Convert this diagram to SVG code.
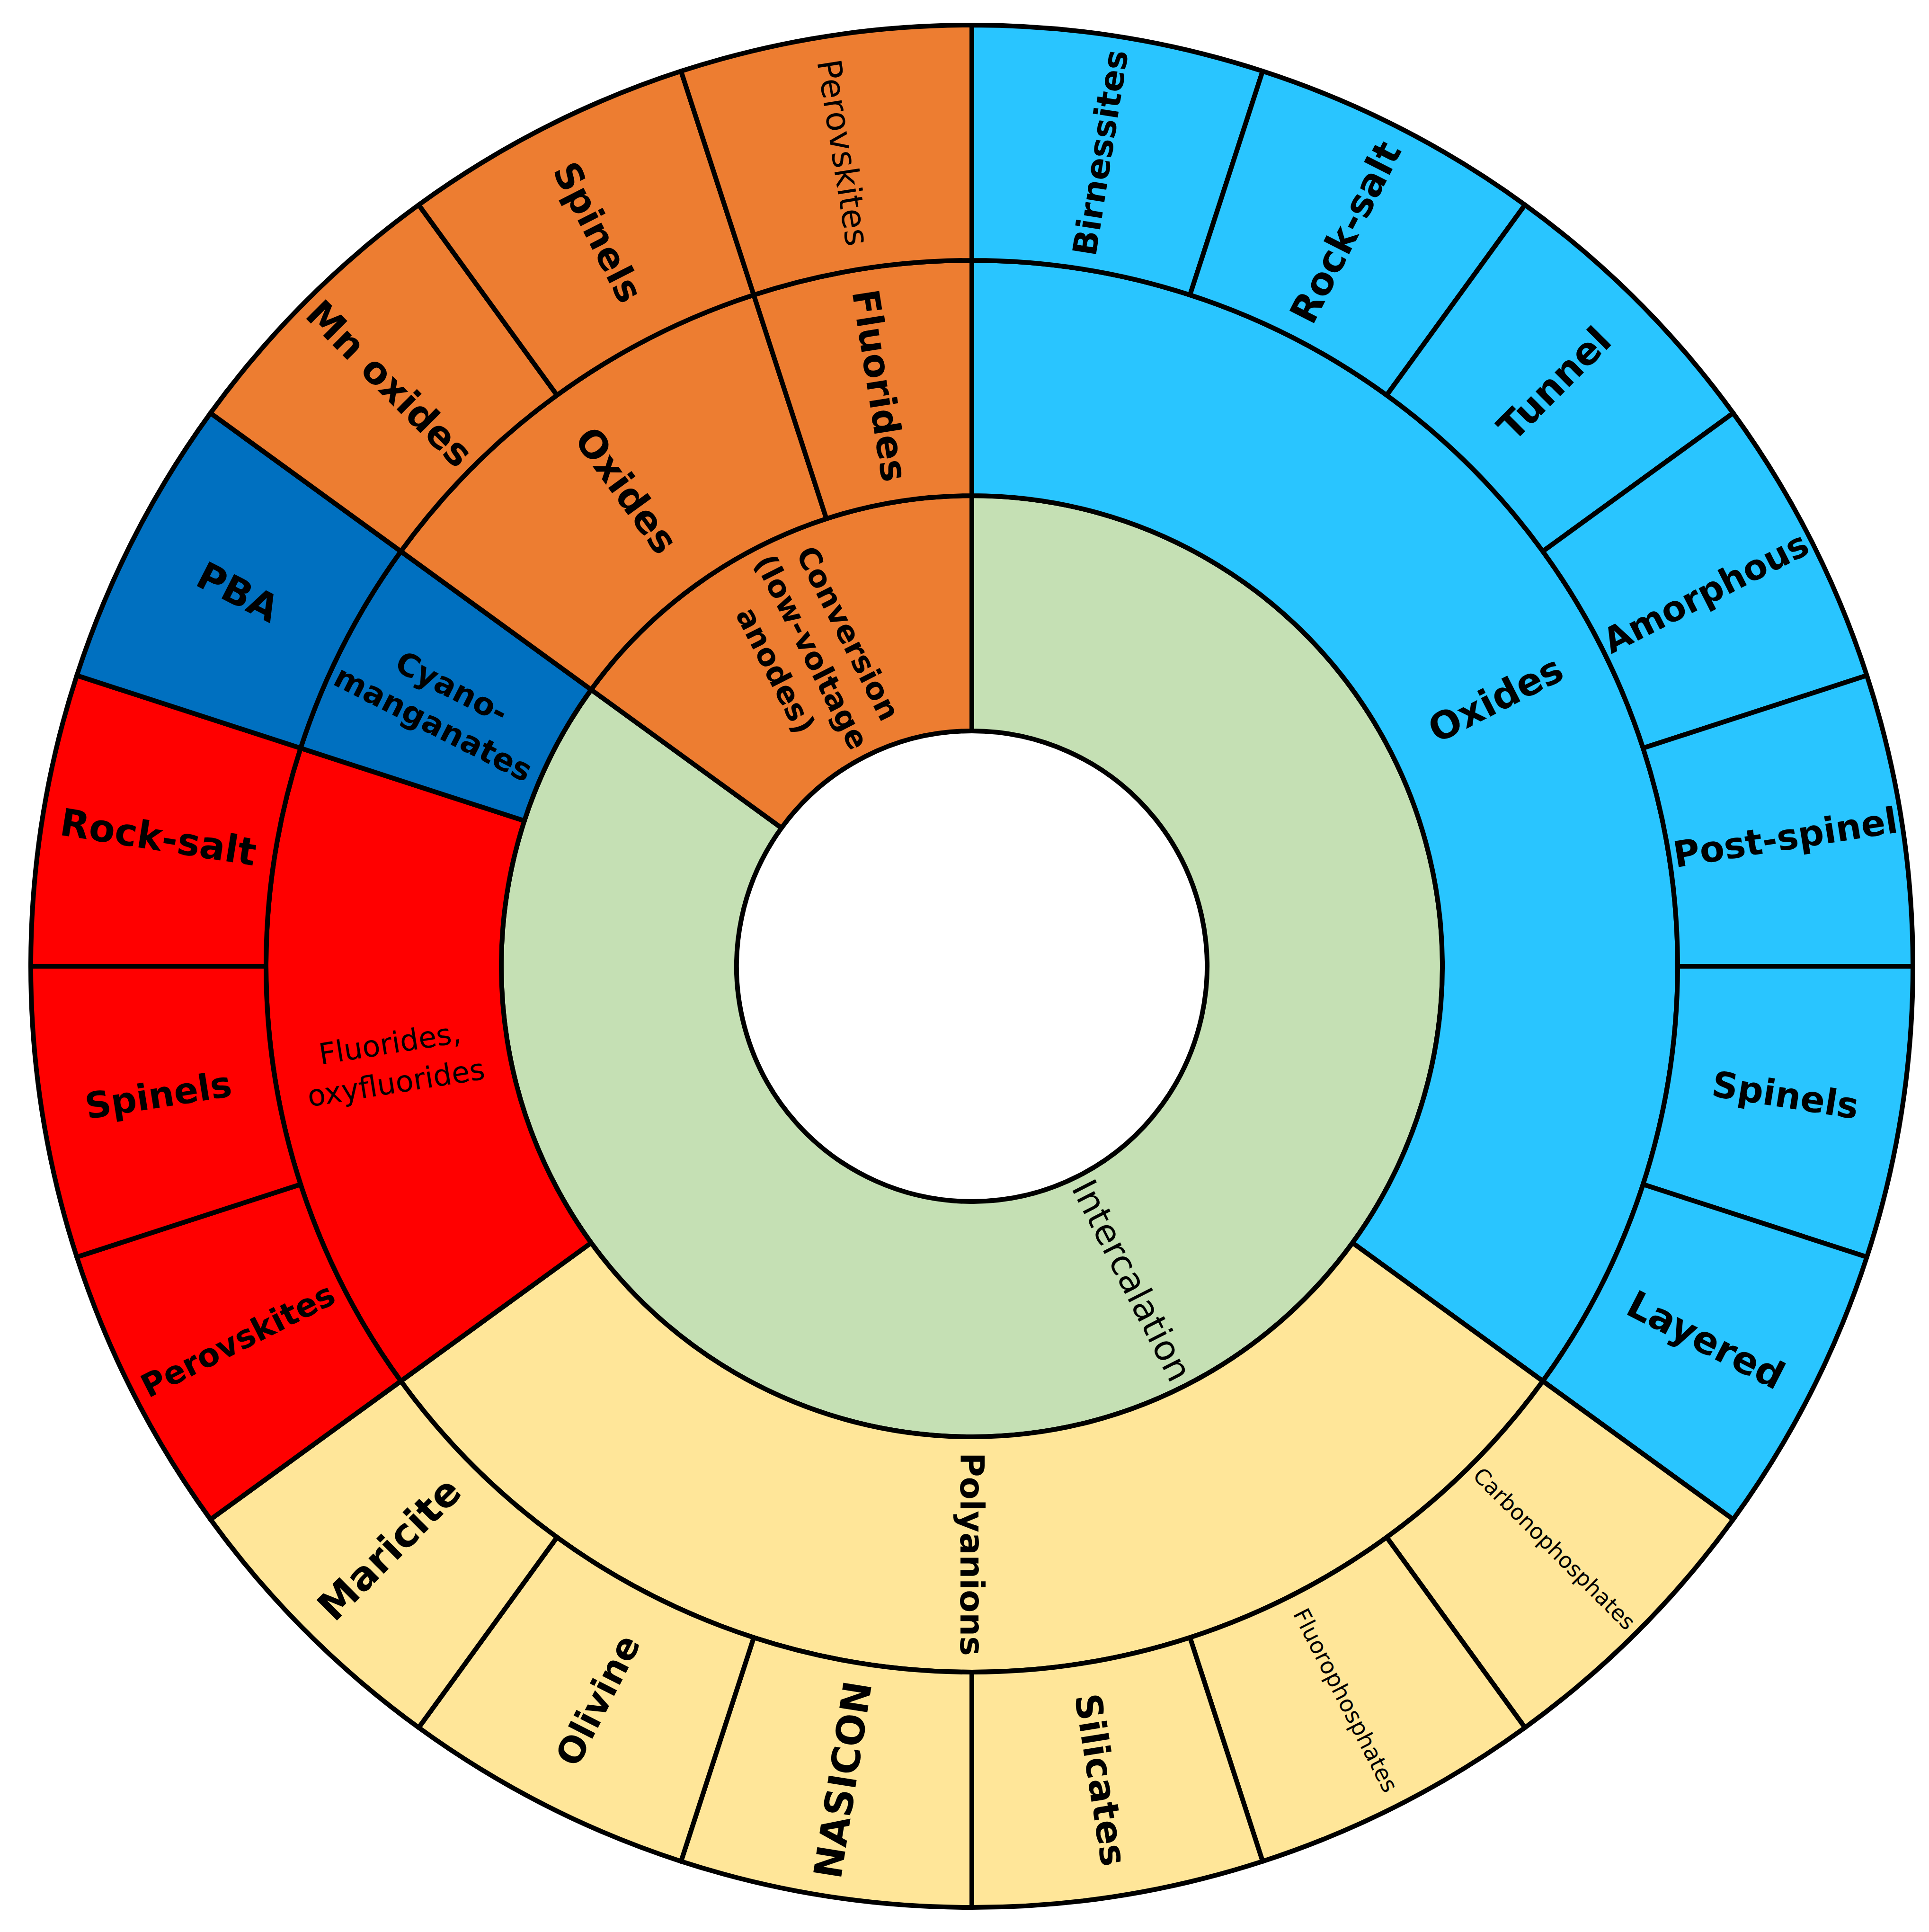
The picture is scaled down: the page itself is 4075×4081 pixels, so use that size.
<svg xmlns="http://www.w3.org/2000/svg" width="4075" height="4081" viewBox="0 0 4075 4081">
<style>
.seg{stroke:#000;stroke-width:10;stroke-linejoin:round}
.lb{font-family:"DejaVu Sans","Liberation Sans",sans-serif;font-weight:bold;font-size:78px;text-anchor:middle;dominant-baseline:central;fill:#000}
.lb tspan{dominant-baseline:central}
.rg{font-weight:normal}
.blue{fill:#29C5FF}.yel{fill:#FFE699}.red{fill:#FF0000}.dblue{fill:#0070C0}.org{fill:#ED7D31}.grn{fill:#C5E0B4}
</style>
<rect width="4075" height="4081" fill="#fff"/>
<g id="inner-ring">
<g id="intercalation"><path class="seg grn" d="M2053,1047 A994,994 0 1 1 1248.8,1456.7 L1650.9,1748.9 A497,497 0 1 0 2053,1544 Z"/>
<text class="lb rg" style="font-size:74px" transform="translate(2391.2,2704.8) rotate(63)">Intercalation</text></g>
<g id="conversion"><path class="seg org" d="M1248.8,1456.7 A994,994 0 0 1 2053,1047 L2053,1544 A497,497 0 0 0 1650.9,1748.9 Z"/>
<text class="lb" style="font-size:64px" transform="translate(1714.8,1377.2) rotate(63)"><tspan x="0" y="-86">Conversion</tspan><tspan x="0" y="0">(low-voltage</tspan><tspan x="0" y="86">anodes)</tspan></text></g>
</g>
<g id="middle-ring">
<g id="oxides-int"><path class="seg blue" d="M2053,550 A1491,1491 0 0 1 3259.2,2917.4 L2857.2,2625.3 A994,994 0 0 0 2053,1047 Z"/>
<text class="lb" style="font-size:80px" transform="translate(3159.6,1477.1) rotate(-27)">Oxides</text></g>
<g id="polyanions"><path class="seg yel" d="M3259.2,2917.4 A1491,1491 0 0 1 846.8,2917.4 L1248.8,2625.3 A994,994 0 0 0 2857.2,2625.3 Z"/>
<text class="lb" style="font-size:70px" transform="translate(2053,3283) rotate(90)">Polyanions</text></g>
<g id="fluorides-oxyfluorides"><path class="seg red" d="M846.8,2917.4 A1491,1491 0 0 1 635,1580.3 L1107.7,1733.8 A994,994 0 0 0 1248.8,2625.3 Z"/>
<text class="lb rg" style="font-size:62px" transform="translate(830,2245) rotate(-9)"><tspan x="0" y="-42">Fluorides,</tspan><tspan x="0" y="42">oxyfluorides</tspan></text></g>
<g id="cyanomanganates"><path class="seg dblue" d="M635,1580.3 A1491,1491 0 0 1 846.8,1164.6 L1248.8,1456.7 A994,994 0 0 0 1107.7,1733.8 Z"/>
<text class="lb" style="font-size:66px" transform="translate(935,1490) rotate(27)"><tspan x="0" y="-43">Cyano-</tspan><tspan x="0" y="43">manganates</tspan></text></g>
<g id="oxides-conv"><path class="seg org" d="M846.8,1164.6 A1491,1491 0 0 1 1592.3,623 L1745.8,1095.7 A994,994 0 0 0 1248.8,1456.7 Z"/>
<text class="lb" style="font-size:80px" transform="translate(1323,1036.2) rotate(54)">Oxides</text></g>
<g id="fluorides-conv"><path class="seg org" d="M1592.3,623 A1491,1491 0 0 1 2053,550 L2053,1047 A994,994 0 0 0 1745.8,1095.7 Z"/>
<text class="lb" transform="translate(1858.7,814.3) rotate(81)">Fluorides</text></g>
</g>
<g id="outer-ring">
<g id="birnessites"><path class="seg blue" d="M2053,53 A1988,1988 0 0 1 2667.3,150.3 L2513.8,623 A1491,1491 0 0 0 2053,550 Z"/>
<text class="lb" style="font-size:70px" transform="translate(2325.2,322.4) rotate(-81)">Birnessites</text></g>
<g id="rocksalt-ox"><path class="seg blue" d="M2667.3,150.3 A1988,1988 0 0 1 3221.5,432.7 L2929.4,834.8 A1491,1491 0 0 0 2513.8,623 Z"/>
<text class="lb" style="font-size:80px" transform="translate(2842.9,490.6) rotate(-63)">Rock-salt</text></g>
<g id="tunnel"><path class="seg blue" d="M3221.5,432.7 A1988,1988 0 0 1 3661.3,872.5 L3259.2,1164.6 A1491,1491 0 0 0 2929.4,834.8 Z"/>
<text class="lb" style="font-size:80px" transform="translate(3283.4,810.6) rotate(-45)">Tunnel</text></g>
<g id="amorphous"><path class="seg blue" d="M3661.3,872.5 A1988,1988 0 0 1 3943.7,1426.7 L3471,1580.3 A1491,1491 0 0 0 3259.2,1164.6 Z"/>
<text class="lb" style="font-size:74px" transform="translate(3603.4,1251.1) rotate(-27)">Amorphous</text></g>
<g id="postspinel"><path class="seg blue" d="M3943.7,1426.7 A1988,1988 0 0 1 4041,2041 L3544,2041 A1491,1491 0 0 0 3471,1580.3 Z"/>
<text class="lb" style="font-size:76px" transform="translate(3771.6,1768.8) rotate(-9)">Post-spinel</text></g>
<g id="spinels-ox"><path class="seg blue" d="M4041,2041 A1988,1988 0 0 1 3943.7,2655.3 L3471,2501.8 A1491,1491 0 0 0 3544,2041 Z"/>
<text class="lb" style="font-size:76px" transform="translate(3771.6,2313.2) rotate(9)">Spinels</text></g>
<g id="layered"><path class="seg blue" d="M3943.7,2655.3 A1988,1988 0 0 1 3661.3,3209.5 L3259.2,2917.4 A1491,1491 0 0 0 3471,2501.8 Z"/>
<text class="lb" style="font-size:80px" transform="translate(3603.4,2830.9) rotate(27)">Layered</text></g>
<g id="carbonophosphates"><path class="seg yel" d="M3661.3,3209.5 A1988,1988 0 0 1 3221.5,3649.3 L2929.4,3247.2 A1491,1491 0 0 0 3259.2,2917.4 Z"/>
<text class="lb rg" style="font-size:46px" transform="translate(3283.4,3271.4) rotate(45)">Carbonophosphates</text></g>
<g id="fluorophosphates"><path class="seg yel" d="M3221.5,3649.3 A1988,1988 0 0 1 2667.3,3931.7 L2513.8,3459 A1491,1491 0 0 0 2929.4,3247.2 Z"/>
<text class="lb rg" style="font-size:48px" transform="translate(2842.9,3591.4) rotate(63)">Fluorophosphates</text></g>
<g id="silicates"><path class="seg yel" d="M2667.3,3931.7 A1988,1988 0 0 1 2053,4029 L2053,3532 A1491,1491 0 0 0 2513.8,3459 Z"/>
<text class="lb" style="font-size:77px" transform="translate(2325.2,3759.6) rotate(81)">Silicates</text></g>
<g id="nasicon"><path class="seg yel" d="M2053,4029 A1988,1988 0 0 1 1438.7,3931.7 L1592.3,3459 A1491,1491 0 0 0 2053,3532 Z"/>
<text class="lb" style="font-size:82px" transform="translate(1780.8,3759.6) rotate(-81)">NASICON</text></g>
<g id="olivine"><path class="seg yel" d="M1438.7,3931.7 A1988,1988 0 0 1 884.5,3649.3 L1176.6,3247.2 A1491,1491 0 0 0 1592.3,3459 Z"/>
<text class="lb" style="font-size:76px" transform="translate(1263.1,3591.4) rotate(-63)">Olivine</text></g>
<g id="maricite"><path class="seg yel" d="M884.5,3649.3 A1988,1988 0 0 1 444.7,3209.5 L846.8,2917.4 A1491,1491 0 0 0 1176.6,3247.2 Z"/>
<text class="lb" style="font-size:84px" transform="translate(822.6,3271.4) rotate(-45)">Maricite</text></g>
<g id="perovskites-f"><path class="seg red" d="M444.7,3209.5 A1988,1988 0 0 1 162.3,2655.3 L635,2501.8 A1491,1491 0 0 0 846.8,2917.4 Z"/>
<text class="lb" style="font-size:68px" transform="translate(502.6,2830.9) rotate(-27)">Perovskites</text></g>
<g id="spinels-f"><path class="seg red" d="M162.3,2655.3 A1988,1988 0 0 1 65,2041 L562,2041 A1491,1491 0 0 0 635,2501.8 Z"/>
<text class="lb" style="font-size:76px" transform="translate(334.4,2313.2) rotate(-9)">Spinels</text></g>
<g id="rocksalt-f"><path class="seg red" d="M65,2041 A1988,1988 0 0 1 162.3,1426.7 L635,1580.3 A1491,1491 0 0 0 562,2041 Z"/>
<text class="lb" style="font-size:80px" transform="translate(334.4,1768.8) rotate(9)">Rock-salt</text></g>
<g id="pba"><path class="seg dblue" d="M162.3,1426.7 A1988,1988 0 0 1 444.7,872.5 L846.8,1164.6 A1491,1491 0 0 0 635,1580.3 Z"/>
<text class="lb" style="font-size:80px" transform="translate(502.6,1251.1) rotate(27)">PBA</text></g>
<g id="mnoxides"><path class="seg org" d="M444.7,872.5 A1988,1988 0 0 1 884.5,432.7 L1176.6,834.8 A1491,1491 0 0 0 846.8,1164.6 Z"/>
<text class="lb" style="font-size:80px" transform="translate(822.6,810.6) rotate(45)">Mn oxides</text></g>
<g id="spinels-conv"><path class="seg org" d="M884.5,432.7 A1988,1988 0 0 1 1438.7,150.3 L1592.3,623 A1491,1491 0 0 0 1176.6,834.8 Z"/>
<text class="lb" style="font-size:78px" transform="translate(1263.1,490.6) rotate(63)">Spinels</text></g>
<g id="perovskites-conv"><path class="seg org" d="M1438.7,150.3 A1988,1988 0 0 1 2053,53 L2053,550 A1491,1491 0 0 0 1592.3,623 Z"/>
<text class="lb rg" style="font-size:70px" transform="translate(1780.8,322.4) rotate(81)">Perovskites</text></g>
</g>
<g id="connectors"/>
</svg>
